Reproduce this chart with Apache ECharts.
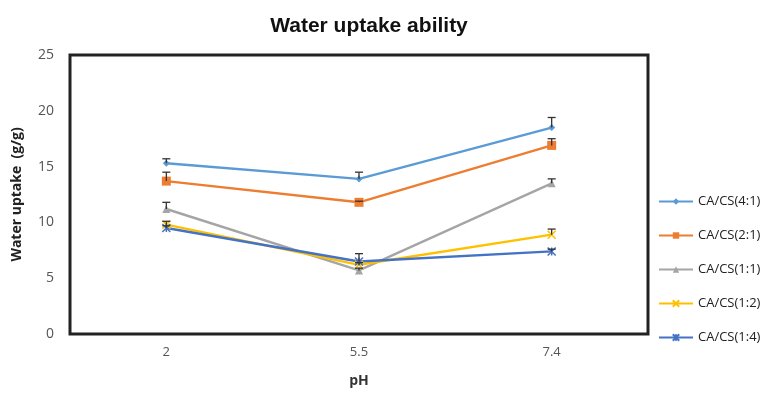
<!DOCTYPE html>
<html><head><meta charset="utf-8">
<script src="https://cdn.jsdelivr.net/npm/echarts@6/dist/echarts.min.js"></script>
<style>html,body{margin:0;padding:0;background:#fff}#c{width:761px;height:393px}</style>
</head><body><div id="c"></div>
<script>
var categories = ['2', '5.5', '7.4'];
var seriesNames = ['CA/CS(4:1)', 'CA/CS(2:1)', 'CA/CS(1:1)', 'CA/CS(1:2)', 'CA/CS(1:4)'];
var v41 = [15.3, 13.9, 18.5];
var v21 = [13.7, 11.8, 16.9];
var v11 = [11.2, 5.7, 13.5];
var v12 = [9.8, 6.2, 8.9];
var v14 = [9.5, 6.5, 7.4];
var e41 = [0.4, 0.6, 0.9];
var e21 = [0.8, 0.1, 0.6];
var e11 = [0.6, 0.2, 0.4];
var e12 = [0.3, 0.2, 0.5];
var e14 = [0.2, 0.7, 0.2];
var yTicks = [0, 5, 10, 15, 20, 25];

var values = [v41, v21, v11, v12, v14];
var errors = [e41, e21, e11, e12, e14];
var colors = ['#5B9BD5', '#ED7D31', '#A5A5A5', '#FFC000', '#4472C4'];
var symbols = ['diamond', 'rect', 'triangle',
  'path://M0,0L10,10M10,0L0,10',
  'path://M0,0L10,10M10,0L0,10M5,0L5,10'];
var sizes = [7, 9, 8, 8, 8];

var series = [];
values.forEach(function (vals, i) {
  series.push({
    name: seriesNames[i], type: 'line', data: vals,
    symbol: symbols[i], symbolSize: sizes[i],
    lineStyle: { color: colors[i], width: 2.4 },
    itemStyle: { color: colors[i], borderColor: colors[i], borderWidth: i >= 3 ? 1.5 : 0 },
    z: 3
  });
});
var errData = [];
values.forEach(function (vals, i) {
  vals.forEach(function (v, j) { errData.push([j, v, errors[i][j]]); });
});
series.push({
  type: 'custom', name: 'err', data: errData, z: 4, silent: true,
  renderItem: function (params, api) {
    var x = api.value(0), y = api.value(1), e = api.value(2);
    var p0 = api.coord([x, y]);
    var p1 = api.coord([x, y + e]);
    var st = { stroke: '#333', lineWidth: 1.3 };
    return { type: 'group', children: [
      { type: 'line', shape: { x1: p0[0], y1: p0[1], x2: p1[0], y2: p1[1] }, style: st },
      { type: 'line', shape: { x1: p1[0] - 4, y1: p1[1], x2: p1[0] + 4, y2: p1[1] }, style: st }
    ]};
  }
});

var chart = echarts.init(document.getElementById('c'));
chart.setOption({
  animation: false,
  title: { text: 'Water uptake ability', left: 364, top: 11, textAlign: 'center',
    textStyle: { fontFamily: 'Liberation Sans', fontSize: 21, fontWeight: 'bold', color: '#111' } },
  grid: { left: 70, right: 113, top: 55, bottom: 57, show: true, borderColor: '#222', borderWidth: 3 },
  legend: {
    orient: 'vertical', left: 653, top: 190, itemGap: 21, itemWidth: 34, itemHeight: 8,
    data: seriesNames,
    textStyle: { fontFamily: 'Open Sans', fontSize: 13, color: '#222' }
  },
  xAxis: {
    type: 'category', data: categories, boundaryGap: true,
    axisLine: { show: false }, axisTick: { show: false },
    axisLabel: { margin: 12, fontFamily: 'Open Sans', fontSize: 13, color: '#555' },
    name: 'pH', nameLocation: 'middle', nameGap: 40,
    nameTextStyle: { fontFamily: 'Open Sans', fontSize: 14, fontWeight: 'bold', color: '#333' }
  },
  yAxis: {
    type: 'value', min: yTicks[0], max: yTicks[yTicks.length - 1], interval: 5,
    axisLine: { show: false }, axisTick: { show: false }, splitLine: { show: false },
    axisLabel: { margin: 16, fontFamily: 'Open Sans', fontSize: 14, color: '#555' },
    name: 'Water uptake  (g/g)', nameLocation: 'middle', nameGap: 46,
    nameTextStyle: { fontFamily: 'Open Sans', fontSize: 14, fontWeight: 'bold', color: '#222' }
  },
  series: series
});
</script></body></html>
